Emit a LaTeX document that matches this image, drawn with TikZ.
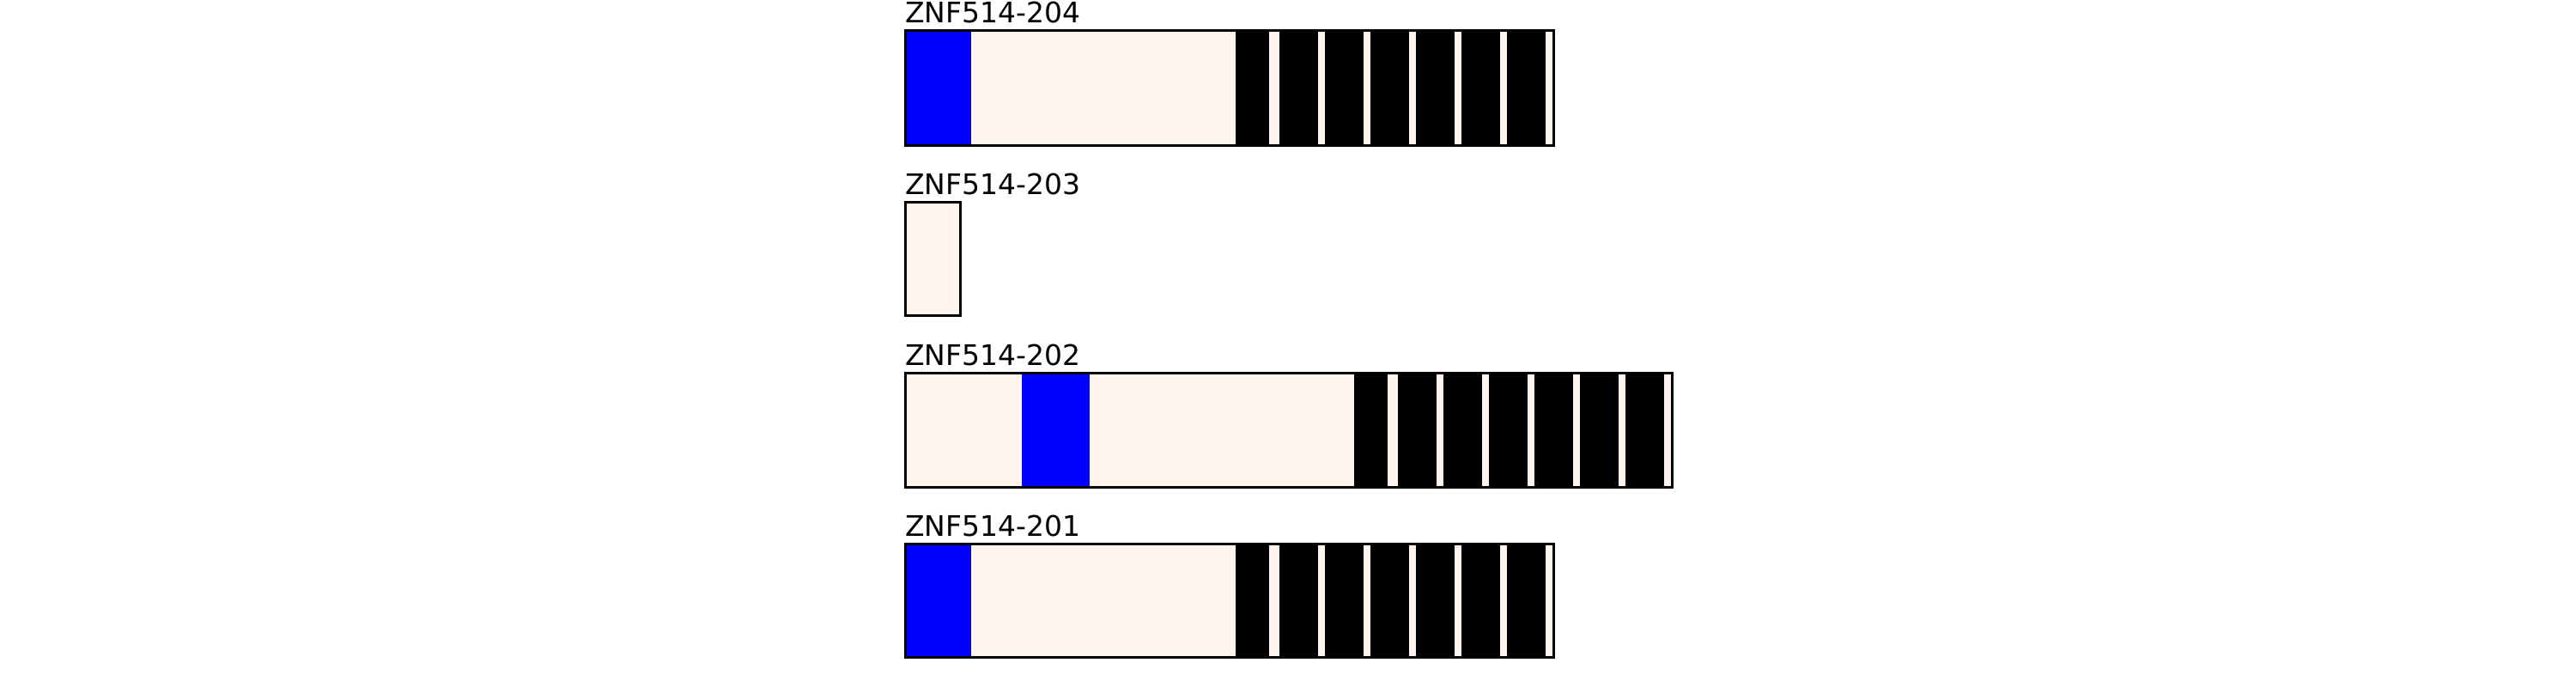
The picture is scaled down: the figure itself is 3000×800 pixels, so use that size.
\documentclass[tikz,border=0pt]{standalone}
\usepackage{fontspec}
\setmainfont{DejaVu Sans}
\definecolor{exon}{HTML}{FFF5EE}
\definecolor{dom}{HTML}{0000FF}
\tikzset{
  lbl/.style={anchor=base west, inner sep=0pt, font=\fontsize{33}{36}\selectfont},
  frame/.style={draw=black, line width=3pt, fill=exon},
}
\begin{document}
\begin{tikzpicture}[x=1pt,y=-1pt]
\useasboundingbox (0,0) rectangle (3000,800);
% Row 1: ZNF514-204
\node[lbl] (l204) at (1054,27) {ZNF514-204};
\fill[exon] (1054,36) rectangle (1809,169);
\fill[dom] (1054,36) rectangle (1131,169);
\foreach \a/\b in {1439/1478,1490/1535,1543/1588,1596/1641,1649/1694,1702/1747,1755/1800}
  \fill[black] (\a,36) rectangle (\b,169);
\draw[line width=3pt] (1054,36) rectangle (1809,169);
% Row 2: ZNF514-203
\node[lbl] (l203) at (1054,226) {ZNF514-203};
\draw[frame] (1054,235) rectangle (1118,367);
% Row 3: ZNF514-202
\node[lbl] (l202) at (1054,425) {ZNF514-202};
\fill[exon] (1054,434) rectangle (1947,567);
\fill[dom] (1190,434) rectangle (1269,567);
\foreach \a/\b in {1439/1478,1490/1535,1543/1588,1596/1641,1649/1694,1702/1747,1755/1800}
  \fill[black] (\a+137.5,434) rectangle (\b+137.5,567);
\draw[line width=3pt] (1054,434) rectangle (1947,567);
% Row 4: ZNF514-201
\node[lbl] (l201) at (1054,624) {ZNF514-201};
\fill[exon] (1054,633) rectangle (1809,765);
\fill[dom] (1054,633) rectangle (1131,765);
\foreach \a/\b in {1439/1478,1490/1535,1543/1588,1596/1641,1649/1694,1702/1747,1755/1800}
  \fill[black] (\a,633) rectangle (\b,765);
\draw[line width=3pt] (1054,633) rectangle (1809,765);
\end{tikzpicture}
\end{document}
